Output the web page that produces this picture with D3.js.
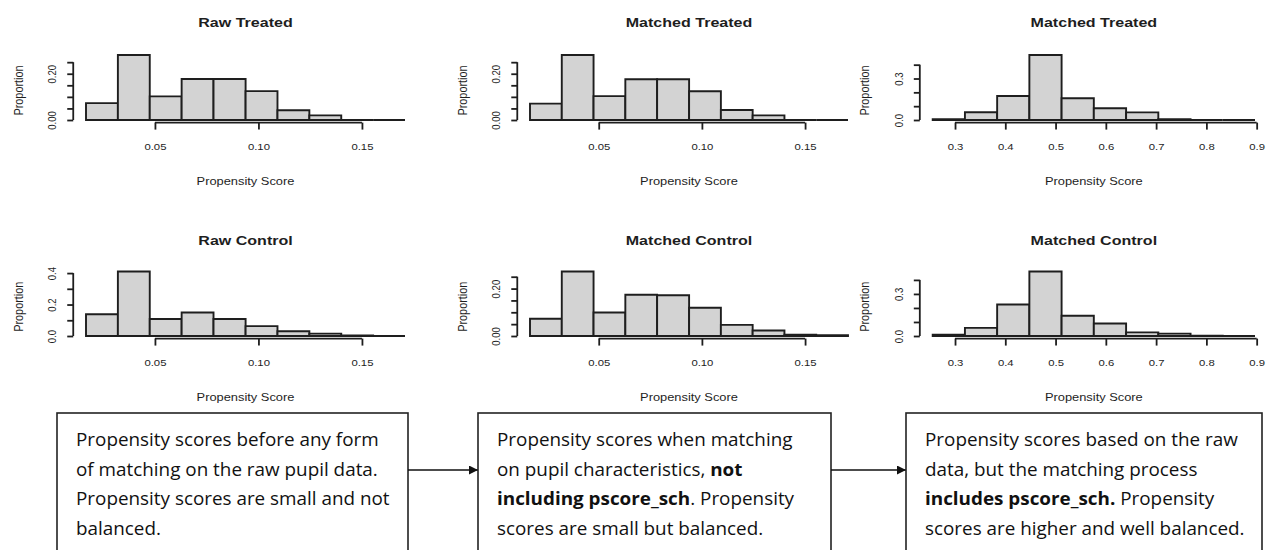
<!DOCTYPE html>
<html>
<head>
<meta charset="utf-8">
<script src="https://cdn.jsdelivr.net/npm/d3@7"></script>
<style>
  html, body { margin: 0; padding: 0; background: #fff; }
  svg { display: block; }
</style>
</head>
<body>
<svg id="fig" width="1268" height="550"></svg>
<script>
// ---- Histogram bin breaks (propensity score) ----
const breaksLow  = [0.0167, 0.0321, 0.0475, 0.0629, 0.0783, 0.0938, 0.1092, 0.1246, 0.1400, 0.1554, 0.1708];
const breaksHigh = [0.2556, 0.3197, 0.3838, 0.4479, 0.5120, 0.5761, 0.6403, 0.7044, 0.7685, 0.8326, 0.8967];

// ---- Proportion of pupils falling in each bin ----
const rawTreated        = [0.073, 0.281, 0.102, 0.177, 0.177, 0.125, 0.042, 0.020, 0.000, 0.000];
const pupilMatchTreated = [0.071, 0.281, 0.103, 0.176, 0.176, 0.124, 0.043, 0.020, 0.000, 0.000];
const schMatchTreated   = [0.006, 0.056, 0.173, 0.470, 0.157, 0.085, 0.055, 0.006, 0.000, 0.000];
const rawControl        = [0.138, 0.410, 0.108, 0.149, 0.108, 0.063, 0.030, 0.015, 0.004, 0.000];
const pupilMatchControl = [0.073, 0.272, 0.099, 0.174, 0.172, 0.119, 0.047, 0.023, 0.005, 0.003];
const schMatchControl   = [0.010, 0.058, 0.225, 0.460, 0.144, 0.089, 0.026, 0.017, 0.003, 0.000];

// ---- Axis ticks and labels ----
const xTicksLow       = [0.05, 0.10, 0.15];
const xTickLabelsLow  = ["0.05", "0.10", "0.15"];
const xTicksHigh      = [0.3, 0.4, 0.5, 0.6, 0.7, 0.8, 0.9];
const xTickLabelsHigh = ["0.3", "0.4", "0.5", "0.6", "0.7", "0.8", "0.9"];

const yTicksFine        = [0, 0.05, 0.10, 0.15, 0.20, 0.25];
const yLabelsFine       = ["0.00", "", "", "", "0.20", ""];
const yTicksCoarse      = [0, 0.1, 0.2, 0.3, 0.4];
const yLabelsRawControl = ["0.0", "", "0.2", "", "0.4"];
const yLabelsHigh       = ["0.0", "", "", "0.3", ""];

const panelTitles = ["Raw Treated", "Matched Treated", "Matched Treated",
                     "Raw Control", "Matched Control", "Matched Control"];
const xAxisTitle = "Propensity Score";
const yAxisTitle = "Proportion";

// ---- Notes under each column: lines of [text, bold] segments ----
const noteRawData = [
  [["Propensity scores before any form", false]],
  [["of matching on the raw pupil data.", false]],
  [["Propensity scores are small and not", false]],
  [["balanced.", false]]
];
const notePupilMatch = [
  [["Propensity scores when matching", false]],
  [["on pupil characteristics, ", false], ["not", true]],
  [["including pscore_sch", true], [". Propensity", false]],
  [["scores are small but balanced.", false]]
];
const noteSchoolMatch = [
  [["Propensity scores based on the raw", false]],
  [["data, but the matching process", false]],
  [["includes pscore_sch.", true], [" Propensity", false]],
  [["scores are higher and well balanced.", false]]
];

// ---- Layout ----
const svg = d3.select("#fig");
const FONT = "'Liberation Sans', Arial, sans-serif";
const NOTE_FONT = "'Open Sans', 'Noto Sans', sans-serif";
const STRETCH = 1.18;          // horizontal widening of the R-style text
const NOTE_STRETCH = 1.02;     // horizontal widening of the note text
const INK = "#1e1e1e";

const colRanges = [[86, 405], [530, 848], [932.7, 1255]];
const rowRanges = [[120, 55], [336, 271.5]];
const titleY    = [22.5, 240];

const panels = [
  { title: panelTitles[0], values: rawTreated,        breaks: breaksLow,  col: 0, row: 0, xt: xTicksLow,  xl: xTickLabelsLow,  yt: yTicksFine,   yl: yLabelsFine },
  { title: panelTitles[1], values: pupilMatchTreated, breaks: breaksLow,  col: 1, row: 0, xt: xTicksLow,  xl: xTickLabelsLow,  yt: yTicksFine,   yl: yLabelsFine },
  { title: panelTitles[2], values: schMatchTreated,   breaks: breaksHigh, col: 2, row: 0, xt: xTicksHigh, xl: xTickLabelsHigh, yt: yTicksCoarse, yl: yLabelsHigh },
  { title: panelTitles[3], values: rawControl,        breaks: breaksLow,  col: 0, row: 1, xt: xTicksLow,  xl: xTickLabelsLow,  yt: yTicksCoarse, yl: yLabelsRawControl },
  { title: panelTitles[4], values: pupilMatchControl, breaks: breaksLow,  col: 1, row: 1, xt: xTicksLow,  xl: xTickLabelsLow,  yt: yTicksFine,   yl: yLabelsFine },
  { title: panelTitles[5], values: schMatchControl,   breaks: breaksHigh, col: 2, row: 1, xt: xTicksHigh, xl: xTickLabelsHigh, yt: yTicksCoarse, yl: yLabelsHigh }
];

function stretchedText(g, x, y, str, size, weight) {
  return g.append("text")
    .attr("transform", `translate(${x},${y}) scale(${STRETCH},1)`)
    .attr("text-anchor", "middle")
    .attr("dy", "0.35em")
    .attr("font-family", FONT)
    .attr("font-size", size)
    .attr("font-weight", weight || 400)
    .attr("fill", INK)
    .text(str);
}

panels.forEach(p => {
  const g = svg.append("g");
  const xr = colRanges[p.col], yr = rowRanges[p.row];
  const x = d3.scaleLinear().domain([p.breaks[0], p.breaks[p.breaks.length - 1]]).range(xr);
  const y = d3.scaleLinear().domain([0, d3.max(p.values)]).range(yr);
  const padX = 0.04 * (xr[1] - xr[0]);
  const padY = 0.04 * (yr[0] - yr[1]);
  const axisY = yr[0] + padY;
  const axisX = xr[0] - padX;

  // histogram bars (paths so that empty bins still show as a baseline)
  g.selectAll("path.bar")
    .data(p.values)
    .join("path")
    .attr("class", "bar")
    .attr("d", (v, i) => {
      const x0 = x(p.breaks[i]), x1 = x(p.breaks[i + 1]);
      return `M${x0},${y(0)}V${y(v)}H${x1}V${y(0)}Z`;
    })
    .attr("fill", "#d3d3d3")
    .attr("stroke", INK)
    .attr("stroke-width", 1.9)
    .attr("stroke-linejoin", "miter");

  // x axis
  const xa = g.append("g")
    .attr("transform", `translate(0,${axisY})`)
    .call(d3.axisBottom(x)
      .tickValues(p.xt)
      .tickFormat((d, i) => p.xl[i])
      .tickSize(7)
      .tickPadding(10));
  xa.select(".domain").remove();
  xa.append("line")
    .attr("x1", x(p.xt[0])).attr("x2", x(p.xt[p.xt.length - 1]))
    .attr("stroke", INK).attr("stroke-width", 1.8);
  xa.selectAll(".tick line").attr("stroke", INK).attr("stroke-width", 1.8);
  xa.selectAll(".tick text")
    .attr("y", null).attr("dy", "0.35em")
    .attr("transform", `translate(0,24) scale(${STRETCH},1)`)
    .attr("font-family", FONT).attr("font-size", 9.6).attr("fill", INK);

  // y axis
  const ya = g.append("g")
    .attr("transform", `translate(${axisX},0)`)
    .call(d3.axisLeft(y)
      .tickValues(p.yt)
      .tickFormat((d, i) => p.yl[i])
      .tickSize(6));
  ya.select(".domain").remove();
  ya.append("line")
    .attr("y1", y(p.yt[0])).attr("y2", y(p.yt[p.yt.length - 1]))
    .attr("stroke", INK).attr("stroke-width", 1.8);
  ya.selectAll(".tick line").attr("stroke", INK).attr("stroke-width", 1.8);
  ya.selectAll(".tick text")
    .attr("x", null).attr("dy", "0.35em")
    .attr("text-anchor", "middle")
    .attr("transform", `translate(-21,0) scale(${STRETCH},1) rotate(-90)`)
    .attr("font-family", FONT).attr("font-size", 9.6).attr("fill", INK);

  // titles
  const cx = (xr[0] + xr[1]) / 2;
  stretchedText(g, cx, titleY[p.row], p.title, 13.6, 700);
  stretchedText(g, cx, yr[0] + 61, xAxisTitle, 10.9, 400);
  g.append("text")
    .attr("transform", `translate(${axisX - 55},${(yr[0] + yr[1]) / 2 + 3}) scale(${STRETCH},1) rotate(-90)`)
    .attr("text-anchor", "middle")
    .attr("dy", "0.35em")
    .attr("font-family", FONT)
    .attr("font-size", 10.9)
    .attr("fill", INK)
    .text(yAxisTitle);
});

// ---- Note boxes and arrows ----
const boxes = [
  { x0: 57,  x1: 408,  lines: noteRawData },
  { x0: 478, x1: 831,  lines: notePupilMatch },
  { x0: 906, x1: 1262, lines: noteSchoolMatch }
];
const boxTop = 413, lineStart = 446, lineGap = 29.5, textInset = 19;

svg.append("defs").append("marker")
  .attr("id", "arrowHead")
  .attr("viewBox", "0 0 10 10")
  .attr("refX", 10).attr("refY", 5)
  .attr("markerWidth", 9).attr("markerHeight", 9)
  .attr("markerUnits", "userSpaceOnUse")
  .attr("orient", "auto")
  .append("path").attr("d", "M0,0L10,5L0,10Z").attr("fill", "#111");

boxes.forEach((b, i) => {
  svg.append("rect")
    .attr("x", b.x0).attr("y", boxTop)
    .attr("width", b.x1 - b.x0).attr("height", 160)
    .attr("fill", "#fff").attr("stroke", "#222").attr("stroke-width", 1.6);
  b.lines.forEach((segs, li) => {
    const t = svg.append("text")
      .attr("transform", `translate(${b.x0 + textInset},${lineStart + li * lineGap}) scale(${NOTE_STRETCH},1)`)
      .attr("font-family", NOTE_FONT)
      .attr("font-size", 18.5)
      .attr("fill", "#111");
    segs.forEach(([s, bold]) => {
      t.append("tspan").attr("font-weight", bold ? 700 : 400).text(s);
    });
  });
  if (i < boxes.length - 1) {
    svg.append("line")
      .attr("x1", b.x1).attr("x2", boxes[i + 1].x0)
      .attr("y1", 470).attr("y2", 470)
      .attr("stroke", "#111").attr("stroke-width", 1.6)
      .attr("marker-end", "url(#arrowHead)");
  }
});
</script>
</body>
</html>
